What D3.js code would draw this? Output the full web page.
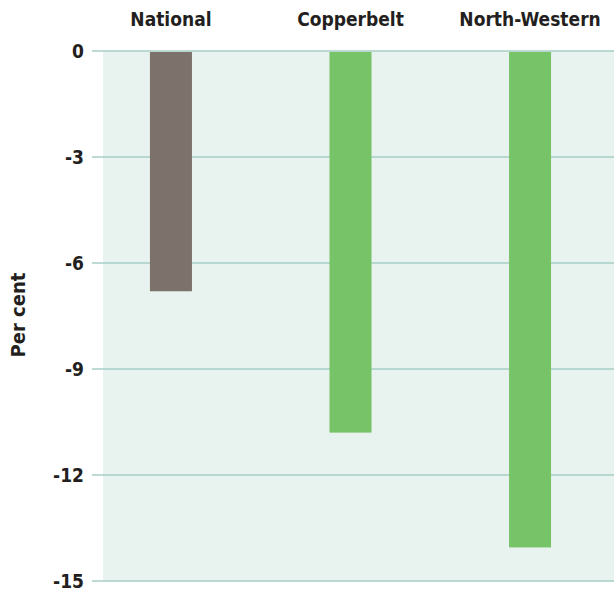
<!DOCTYPE html>
<html>
<head>
<meta charset="utf-8">
<script src="https://cdn.jsdelivr.net/npm/d3@7"></script>
<style>
  body { margin: 0; background: #fff; }
  text { font-family: "DejaVu Sans Condensed", "DejaVu Sans", sans-serif; font-weight: bold; fill: #231f20; }
</style>
</head>
<body>
<svg id="chart" width="614" height="596"></svg>
<script>
// regions along the top, change in per cent
const regions = ["National", "Copperbelt", "North-Western"];
const changes = [-6.8, -10.8, -14.05];
const barColors = ["#7d716b", "#77c368", "#77c368"];
const yTicks = [0, -3, -6, -9, -12, -15];

const svg = d3.select("#chart");

// plot box
const plotLeft = 103, plotRight = 614, plotTop = 51, plotBottom = 581;

const y = d3.scaleLinear().domain([0, -15]).range([plotTop, plotBottom]);
const x = d3.scaleBand().domain(regions).range([81, 620])
  .paddingInner(0.766).paddingOuter(0.384);

// background
svg.append("rect")
  .attr("x", plotLeft).attr("y", plotTop)
  .attr("width", plotRight - plotLeft).attr("height", plotBottom - plotTop)
  .attr("fill", "#e8f2ee");

// gridlines + tick labels
const grid = svg.append("g");
grid.selectAll("line").data(yTicks).enter().append("line")
  .attr("x1", 92).attr("x2", plotRight)
  .attr("y1", d => y(d)).attr("y2", d => y(d))
  .attr("stroke", "#a9cec6").attr("stroke-width", 1.5);
grid.selectAll("text").data(yTicks).enter().append("text")
  .attr("x", 84).attr("y", d => y(d))
  .attr("dy", "0.36em")
  .attr("text-anchor", "end")
  .style("font-size", "19px")
  .text(d => d === 0 ? "0" : "-" + Math.abs(d));

// bars
svg.append("g").selectAll("rect")
  .data(regions.map((r, i) => ({ r, v: changes[i], c: barColors[i] })))
  .enter().append("rect")
  .attr("x", d => x(d.r))
  .attr("y", y(0) + 1)
  .attr("width", x.bandwidth())
  .attr("height", d => y(d.v) - y(0) - 1)
  .attr("fill", d => d.c);

// category labels at the top
svg.append("g").selectAll("text").data(regions).enter().append("text")
  .attr("x", d => x(d) + x.bandwidth() / 2)
  .attr("y", 26)
  .attr("text-anchor", "middle")
  .style("font-size", "19px")
  .text(d => d);

// y axis title
svg.append("text")
  .attr("transform", "translate(25,315) rotate(-90)")
  .attr("text-anchor", "middle")
  .style("font-size", "20px")
  .text("Per cent");
</script>
</body>
</html>
